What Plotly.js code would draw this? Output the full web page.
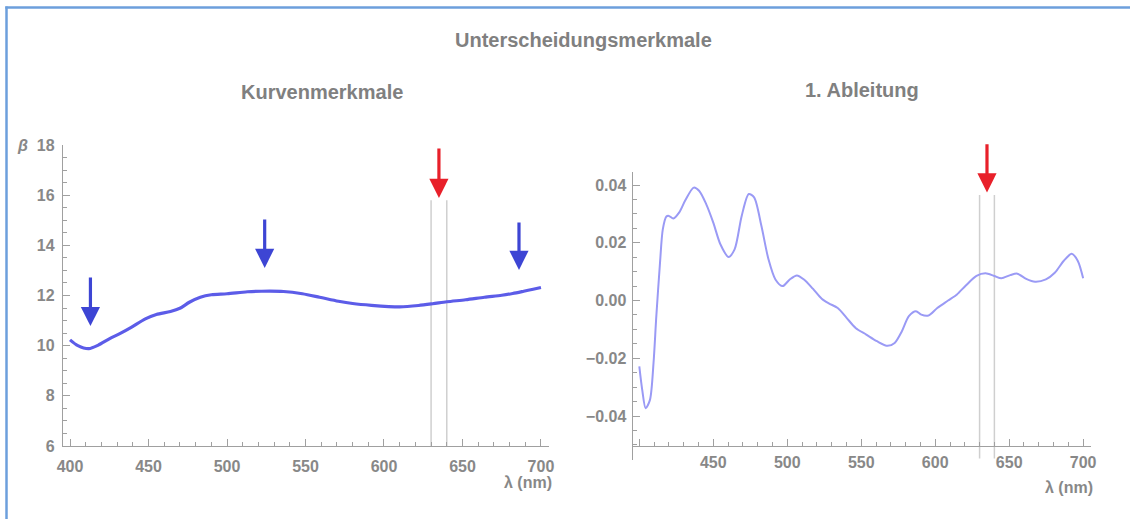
<!DOCTYPE html>
<html>
<head>
<meta charset="utf-8">
<script src="https://cdn.plot.ly/plotly-3.0.1.min.js"></script>
<style>html,body{margin:0;padding:0;background:#fff;}#chart{width:1130px;height:519px;}</style>
</head>
<body>
<div id="chart"></div>
<script>
// ---- data ----
const curveX = [400, 405, 412, 418, 425, 432, 439, 448, 455, 464, 470, 476, 483, 490, 500, 513, 522, 536, 548, 559, 571, 580, 592, 610, 622, 631, 640, 652, 664, 675, 682, 689, 695, 700];
const curveY = [10.23, 10.0, 9.88, 10.02, 10.27, 10.49, 10.73, 11.07, 11.24, 11.36, 11.49, 11.73, 11.93, 12.03, 12.07, 12.15, 12.17, 12.16, 12.07, 11.93, 11.77, 11.68, 11.61, 11.55, 11.6, 11.67, 11.75, 11.83, 11.93, 12.01, 12.08, 12.17, 12.25, 12.32];

const derivX = [400, 402, 404.3, 407.2, 409.6, 411.5, 414, 415.9, 418.3, 420, 423, 427, 431, 436.8, 440.4, 445.2, 450, 454.8, 460.3, 464.4, 469.2, 474, 477.6, 482.5, 487.3, 492, 496.9, 501.7, 506.5, 511.3, 517.3, 523.3, 528.1, 534.1, 540.1, 546.2, 553.4, 560.6, 567.8, 572.6, 577.4, 582.2, 587, 590.6, 595.4, 601.4, 608.7, 614.7, 620.7, 627.9, 633.9, 639.9, 644.7, 650.7, 655.5, 661.5, 667.5, 674.8, 680.8, 686.8, 692.3, 696.4, 700];
const derivY = [-0.0228, -0.031, -0.0373, -0.0344, -0.0217, -0.0054, 0.0131, 0.0247, 0.0291, 0.0293, 0.0284, 0.0305, 0.0346, 0.0391, 0.038, 0.0334, 0.027, 0.0195, 0.0151, 0.0177, 0.0293, 0.0369, 0.0357, 0.0259, 0.0143, 0.0073, 0.005, 0.0073, 0.0087, 0.0073, 0.0041, 0.0006, -0.001, -0.0026, -0.006, -0.0095, -0.0118, -0.0141, -0.0157, -0.0147, -0.0107, -0.0054, -0.0037, -0.0049, -0.0052, -0.0026, 0.0, 0.0021, 0.0052, 0.0085, 0.0094, 0.0085, 0.0077, 0.0088, 0.0093, 0.0075, 0.0065, 0.0073, 0.0096, 0.0137, 0.0162, 0.0137, 0.0077];

// markers: vertical band lines and arrows
const bandX = [630, 640];
const bandLeftY = [6, 15.8];
const bandRightY = [-0.0547, 0.0365];

const blueArrowX = [413, 524, 686];
const blueArrowTop = [12.78, 15.09, 14.97];
const blueArrowTip = [10.78, 13.1, 13.02];

const redArrowX = 635;
const redArrowLeftTop = 17.92, redArrowLeftTip = 15.89;
const redArrowRightTop = 0.0546, redArrowRightTip = 0.0374;

// ticks
const leftXTicks = [400, 450, 500, 550, 600, 650, 700];
const leftYTicks = [6, 8, 10, 12, 14, 16, 18];
const rightXTicks = [400, 450, 500, 550, 600, 650, 700];
const rightXText = ['', '450', '500', '550', '600', '650', '700'];
const rightYTicks = [-0.04, -0.02, 0, 0.02, 0.04];
const rightYText = ['\u22120.04', '\u22120.02', '0.00', '0.02', '0.04'];

// titles
const mainTitle = 'Unterscheidungsmerkmale';
const leftTitle = 'Kurvenmerkmale';
const rightTitle = '1. Ableitung';
const xLabel = '\u03bb (nm)';
const yLabel = '\u03b2';

// ---- styles ----
const gray = '#888888';
const axisGray = '#a0a0a0';
const FONT = 'Liberation Sans, Arial, sans-serif';
const tickFont = {family: FONT, size: 16, color: gray, weight: 'bold'};
const W = 1130, H = 519;
const px = v => v / W, py = v => (H - v) / H;

const traces = [
  {x: curveX, y: curveY, xaxis: 'x', yaxis: 'y', mode: 'lines', type: 'scatter',
   line: {color: '#5c5ce8', width: 3.2, shape: 'spline', smoothing: 0.8}, hoverinfo: 'skip'},
  {x: derivX, y: derivY, xaxis: 'x2', yaxis: 'y2', mode: 'lines', type: 'scatter',
   line: {color: '#9a9af5', width: 2, shape: 'spline', smoothing: 0.8}, hoverinfo: 'skip'}
];

const shapes = [];
bandX.forEach(v => {
  shapes.push({type: 'line', xref: 'x', yref: 'y', x0: v, x1: v, y0: bandLeftY[0], y1: bandLeftY[1],
               line: {color: '#cfcfcf', width: 1.5}, layer: 'below'});
  shapes.push({type: 'line', xref: 'x2', yref: 'y2', x0: v, x1: v, y0: bandRightY[0], y1: bandRightY[1],
               line: {color: '#cfcfcf', width: 1.5}, layer: 'below'});
});
// frame (left and top border)
shapes.push({type: 'line', xref: 'paper', yref: 'paper', x0: px(6.5), x1: px(6.5), y0: 0, y1: py(6.5),
             line: {color: '#6c9fdc', width: 2.5}});
shapes.push({type: 'line', xref: 'paper', yref: 'paper', x0: px(5.3), x1: 1, y0: py(7.5), y1: py(7.5),
             line: {color: '#6c9fdc', width: 2.5}});

const arrowStyle = {showarrow: true, text: '', arrowhead: 2, arrowsize: 1.2, arrowwidth: 3.2};
const annotations = [];
blueArrowX.forEach((v, i) => {
  annotations.push(Object.assign({}, arrowStyle, {xref: 'x', yref: 'y', axref: 'x', ayref: 'y',
    x: v, y: blueArrowTip[i], ax: v, ay: blueArrowTop[i], arrowcolor: '#3d45d4'}));
});
annotations.push(Object.assign({}, arrowStyle, {xref: 'x', yref: 'y', axref: 'x', ayref: 'y',
  x: redArrowX, y: redArrowLeftTip, ax: redArrowX, ay: redArrowLeftTop, arrowcolor: '#e8202a'}));
annotations.push(Object.assign({}, arrowStyle, {xref: 'x2', yref: 'y2', axref: 'x2', ayref: 'y2',
  x: redArrowX, y: redArrowRightTip, ax: redArrowX, ay: redArrowRightTop, arrowcolor: '#e8202a'}));

const titleFont = {family: FONT, size: 20, color: '#808080', weight: 'bold'};
annotations.push({xref: 'paper', yref: 'paper', x: px(583), y: py(40), text: mainTitle, showarrow: false,
                  font: titleFont, xanchor: 'center', yanchor: 'middle'});
annotations.push({xref: 'paper', yref: 'paper', x: px(322), y: py(92), text: leftTitle, showarrow: false,
                  font: titleFont, xanchor: 'center', yanchor: 'middle'});
annotations.push({xref: 'paper', yref: 'paper', x: px(862), y: py(90), text: rightTitle, showarrow: false,
                  font: titleFont, xanchor: 'center', yanchor: 'middle'});
const labFont = {family: FONT, size: 16, color: gray, weight: 'bold'};
annotations.push({xref: 'paper', yref: 'paper', x: px(528), y: py(482), text: xLabel, showarrow: false,
                  font: labFont, xanchor: 'center', yanchor: 'middle'});
annotations.push({xref: 'paper', yref: 'paper', x: px(1069), y: py(487), text: xLabel, showarrow: false,
                  font: labFont, xanchor: 'center', yanchor: 'middle'});
annotations.push({xref: 'paper', yref: 'paper', x: px(22), y: py(145), text: '<i>' + yLabel + '</i>', showarrow: false,
                  font: labFont, xanchor: 'center', yanchor: 'middle'});

const axCommon = {showgrid: false, zeroline: false, showline: true, linecolor: axisGray, linewidth: 1,
                  ticks: 'inside', ticklen: 7, tickcolor: axisGray, tickwidth: 1, tickfont: tickFont, fixedrange: true};

const layout = {
  width: W, height: H, margin: {l: 0, r: 0, t: 0, b: 0},
  paper_bgcolor: '#fff', plot_bgcolor: 'rgba(0,0,0,0)', showlegend: false,
  xaxis: Object.assign({}, axCommon, {domain: [px(62.8), px(548.5)], range: [395.4, 704.8], anchor: 'y',
    tickvals: leftXTicks, ticklabelstandoff: 6,
    minor: {dtick: 10, tick0: 400, ticks: 'inside', ticklen: 4, tickcolor: axisGray, showgrid: false}}),
  yaxis: Object.assign({}, axCommon, {domain: [py(446), py(145)], range: [6, 18], anchor: 'x',
    tickvals: leftYTicks, ticklabelstandoff: 4,
    minor: {dtick: 0.5, tick0: 6, ticks: 'inside', ticklen: 4, tickcolor: axisGray, showgrid: false}}),
  xaxis2: Object.assign({}, axCommon, {domain: [px(632.5), px(1091)], range: [395.4, 705.3], anchor: 'free',
    position: py(445.5), tickvals: rightXTicks, ticktext: rightXText, ticklabelstandoff: 2,
    minor: {dtick: 10, tick0: 400, ticks: 'inside', ticklen: 4, tickcolor: axisGray, showgrid: false}}),
  yaxis2: Object.assign({}, axCommon, {domain: [py(460.2), py(172.3)], range: [-0.0553, 0.0444], anchor: 'x2',
    tickvals: rightYTicks, ticktext: rightYText, ticklabelstandoff: 2,
    minor: {dtick: 0.005, tick0: 0, ticks: 'inside', ticklen: 4, tickcolor: axisGray, showgrid: false}}),
  shapes: shapes,
  annotations: annotations
};

Plotly.newPlot('chart', traces, layout, {staticPlot: true, displayModeBar: false});
</script>
</body>
</html>
